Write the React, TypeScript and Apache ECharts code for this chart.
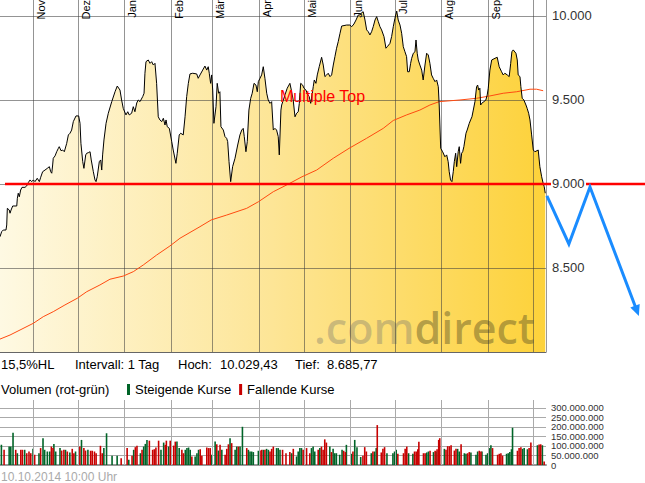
import React, { useEffect, useRef } from "react";
import * as echarts from "echarts";

const FONT = '"Liberation Sans", Arial, Helvetica, sans-serif';
const DAY = 86400000;
const START = Date.UTC(2013, 9, 10);
const END = Date.UTC(2014, 9, 10);

// DAX daily course (days after 10.10.2013, index points)
const priceDay = [
  0, 1.1, 2.2, 4.0, 4.5, 4.9, 6.2, 6.7, 7.4, 8.5, 11.2, 11.6, 12.2, 12.9, 13.8, 14.7, 16.7, 17.8, 18.9, 20.1,
  21.2, 22.3, 23.4, 24.9, 26.3, 27.2, 28.5, 30.1, 31.6, 33.0, 33.9, 34.6, 35.2, 35.6, 36.8, 37.9, 39.0, 39.6, 40.8, 41.9,
  43.0, 44.6, 45.7, 46.8, 47.9, 49.0, 50.8, 52.6, 53.5, 54.1, 55.3, 56.1, 57.3, 58.0, 59.0, 60.2, 61.0, 62.4, 63.5, 64.2,
  65.0, 66.4, 67.3, 68.0, 68.6, 69.5, 70.9, 72.4, 74.7, 76.9, 78.4, 80.2, 81.3, 82.4, 84.2, 85.4, 86.4, 88.0, 89.1, 90.2,
  91.4, 92.4, 93.6, 95.4, 96.3, 96.9, 97.6, 99.1, 100.3, 101.4, 102.5, 103.6, 104.7, 105.8, 106.9, 108.1, 109.2, 110.3, 111.0, 111.8,
  113.2, 114.8, 115.8, 117.6, 118.5, 119.8, 120.8, 122.5, 123.7, 124.8, 125.9, 127.0, 128.8, 131.5, 132.5, 133.7, 135.5, 137.0, 138.2, 139.2,
  139.9, 140.8, 141.5, 142.2, 143.0, 144.4, 145.2, 146.2, 147.0, 147.7, 149.3, 150.4, 151.5, 152.2, 153.1, 154.2, 155.5, 157.1, 158.9, 160.4,
  161.6, 162.6, 163.3, 164.4, 165.3, 166.4, 167.6, 168.6, 169.8, 171.1, 172.0, 172.7, 173.8, 174.9, 176.0, 177.1, 178.3, 179.3, 180.5, 181.6,
  182.7, 183.8, 184.9, 186.0, 186.7, 187.8, 188.3, 189.4, 190.5, 192.0, 193.8, 195.0, 196.0, 197.2, 198.3, 199.4, 200.1, 201.0, 202.3, 203.2,
  204.5, 205.4, 206.7, 207.7, 208.3, 209.4, 210.1, 211.2, 212.1, 213.4, 215.0, 216.1, 217.2, 218.4, 219.4, 220.6, 221.7, 222.8, 223.9, 225.0,
  226.1, 227.3, 228.4, 231.7, 233.9, 235.1, 236.6, 238.0, 239.5, 240.6, 241.8, 242.8, 244.0, 245.1, 246.2, 247.3, 248.4, 249.5, 250.7, 251.8,
  252.9, 254.0, 255.1, 256.7, 258.0, 258.9, 260.7, 261.8, 262.9, 264.0, 265.2, 266.2, 267.4, 268.5, 269.6, 270.7, 271.8, 272.5, 273.6, 274.5,
  275.2, 276.3, 277.4, 278.1, 278.9, 279.6, 280.7, 281.9, 282.9, 284.1, 285.2, 286.3, 287.4, 288.5, 289.6, 290.8, 291.9, 293.0, 293.6, 294.6,
  295.9, 297.4, 298.6, 299.6, 300.3, 301.2, 302.1, 303.0, 303.7, 304.6, 305.3, 306.3, 307.0, 307.9, 308.6, 309.3, 310.1, 311.5, 312.3, 313.7,
  314.6, 315.5, 316.4, 317.5, 318.6, 319.3, 320.0, 320.8, 321.3, 322.0, 323.5, 324.8, 325.7, 326.4, 327.5, 328.7, 330.9, 332.4, 333.7, 335.3,
  336.4, 337.5, 339.1, 340.4, 341.4, 342.2, 343.1, 344.9, 345.8, 346.4, 347.6, 348.2, 349.1, 350.2, 351.6, 352.4, 353.4, 354.3, 355.4, 356.5,
  357.6, 359.8, 360.9, 362.1, 363.1, 363.8, 364.5,
];
const priceClose = [
  8686, 8716, 8726, 8726, 8756, 8855, 8845, 8826, 8845, 8869, 8869, 8915, 8945, 8924, 8964, 8980, 8980, 8988, 9008, 9024,
  9014, 9024, 9014, 9034, 9014, 9040, 9073, 9083, 9093, 9103, 9073, 9064, 9113, 9153, 9167, 9192, 9212, 9222, 9198, 9202,
  9192, 9242, 9292, 9302, 9321, 9371, 9405, 9405, 9361, 9242, 9133, 9093, 9173, 9183, 9186, 9192, 9143, 9073, 9024, 9014,
  9043, 9133, 9143, 9083, 9173, 9262, 9361, 9421, 9490, 9549, 9583, 9559, 9500, 9450, 9411, 9430, 9411, 9421, 9460, 9430,
  9482, 9500, 9490, 9520, 9540, 9659, 9728, 9738, 9718, 9728, 9708, 9718, 9599, 9400, 9381, 9371, 9391, 9351, 9381, 9341,
  9331, 9252, 9202, 9123, 9183, 9292, 9302, 9292, 9400, 9520, 9599, 9655, 9659, 9655, 9629, 9649, 9678, 9702, 9678, 9698,
  9659, 9599, 9649, 9559, 9361, 9460, 9599, 9540, 9549, 9341, 9321, 9282, 9272, 9252, 9133, 9014, 9103, 9153, 9232, 9292,
  9321, 9331, 9282, 9192, 9252, 9440, 9510, 9540, 9599, 9589, 9549, 9609, 9629, 9649, 9698, 9629, 9540, 9500, 9480, 9490,
  9321, 9331, 9321, 9282, 9173, 9440, 9470, 9500, 9530, 9570, 9599, 9549, 9500, 9400, 9421, 9430, 9480, 9599, 9589, 9570,
  9559, 9540, 9520, 9480, 9510, 9579, 9619, 9599, 9649, 9698, 9754, 9708, 9639, 9649, 9659, 9639, 9649, 9708, 9758, 9808,
  9847, 9897, 9940, 9946, 9946, 9936, 9952, 9976, 10006, 10006, 10020, 10025, 9976, 9917, 9906, 9887, 9906, 9936, 9976, 9996,
  9966, 9936, 9917, 9877, 9808, 9817, 9837, 9877, 9936, 9986, 10029, 9976, 9946, 9897, 9817, 9787, 9758, 9668, 9668, 9718,
  9748, 9778, 9787, 9857, 9778, 9738, 9708, 9678, 9619, 9708, 9778, 9768, 9718, 9649, 9629, 9609, 9619, 9579, 9470, 9212,
  9192, 9162, 9173, 9133, 9073, 9024, 9014, 9073, 9133, 9183, 9103, 9192, 9222, 9123, 9183, 9192, 9222, 9302, 9321, 9361,
  9381, 9400, 9440, 9490, 9579, 9589, 9559, 9570, 9470, 9480, 9490, 9500, 9530, 9570, 9678, 9738, 9748, 9754, 9698, 9668,
  9649, 9659, 9649, 9639, 9718, 9787, 9798, 9778, 9738, 9649, 9639, 9579, 9510, 9500, 9470, 9450, 9421, 9381, 9292, 9202,
  9192, 9202, 9103, 9043, 9004, 8984, 8945,
];

// 200-day moving average
const maDay = [
  0, 6.7, 13.4, 22.3, 28.9, 35.6, 43.4, 51.7, 58.0, 66.8, 73.5, 82.4, 89.1, 95.8, 104.7, 113.6, 120.3, 133.7, 141.2, 151.5,
  164.9, 172.9, 182.7, 191.6, 201.9, 211.7, 222.8, 233.3, 245.1, 256.2, 262.9, 271.8, 280.7, 287.4, 293.6, 307.5, 318.6, 327.5,
  336.4, 345.4, 354.3, 358.7, 363.1,
];
const maValue = [
  8077, 8101, 8131, 8171, 8210, 8240, 8280, 8320, 8359, 8399, 8433, 8452, 8478, 8518, 8577, 8631, 8677, 8746, 8786, 8815,
  8855, 8895, 8954, 8994, 9043, 9083, 9153, 9212, 9272, 9331, 9378, 9411, 9440, 9470, 9490, 9500, 9510, 9524,
  9540, 9549, 9564, 9564, 9555,
];

// Volume (millions), 1 = steigende Kurse, 0 = fallende Kurse
const volDay = [
  0.4, 2.2, 5.6, 6.7, 8.2, 10.0, 11.1, 13.4, 14.5, 16.0, 17.4, 18.9, 20.1, 21.6, 22.7, 25.6, 26.7, 28.3, 29.4, 31.2,
  32.8, 33.9, 35.0, 35.6, 36.8, 39.7, 40.8, 42.3, 43.4, 44.6, 46.3, 47.9, 49.0, 50.1, 53.0, 54.1, 55.7, 56.8, 58.4, 60.2,
  61.3, 62.8, 63.9, 66.8, 68.0, 69.1, 70.9, 74.6, 78.0, 80.7, 84.7, 85.8, 88.0, 89.1, 90.2, 91.3, 93.6, 94.7, 95.8, 96.9,
  98.0, 99.6, 101.8, 102.9, 104.0, 105.8, 107.4, 109.2, 110.3, 111.0, 112.5, 113.6, 115.9, 117.0, 118.1, 119.6, 121.4, 122.5, 123.7, 124.8,
  125.9, 127.0, 128.1, 130.3, 131.5, 132.6, 133.7, 134.8, 138.1, 139.3, 140.4, 141.5, 143.7, 144.8, 145.9, 147.0, 148.2, 150.4, 151.5, 152.6,
  153.7, 154.8, 157.1, 158.2, 159.3, 160.4, 162.0, 164.9, 166.0, 167.1, 168.2, 169.3, 172.7, 173.8, 174.9, 176.0, 177.1, 178.2, 179.4, 180.5,
  181.6, 182.7, 184.9, 186.0, 187.2, 188.9, 191.2, 193.8, 195.0, 196.1, 198.3, 199.4, 200.5, 201.6, 202.7, 205.0, 207.2, 208.3, 209.4, 210.5,
  212.8, 213.9, 215.0, 216.1, 217.2, 218.3, 220.6, 221.7, 222.8, 223.9, 225.0, 227.2, 228.8, 229.9, 231.0, 231.7, 235.0, 236.1, 237.3, 238.8,
  241.3, 242.8, 244.0, 245.1, 248.4, 249.5, 250.6, 251.7, 252.4, 255.1, 256.2, 257.3, 258.9, 262.9, 264.0, 265.1, 266.2, 270.0, 271.1, 272.2,
  273.4, 276.3, 277.4, 278.5, 279.6, 280.3, 283.4, 284.5, 285.6, 286.7, 287.8, 290.1, 291.2, 291.8, 292.5, 293.6, 294.3, 297.4, 298.5, 299.6,
  300.8, 301.9, 304.1, 305.2, 306.3, 307.4, 308.6, 310.8, 311.9, 313.0, 314.1, 315.2, 318.6, 319.7, 320.8, 321.9, 322.6, 325.3, 326.4, 327.5,
  328.6, 329.7, 333.1, 334.2, 335.3, 336.4, 339.1, 340.2, 341.3, 342.4, 343.1, 346.4, 347.5, 348.7, 349.8, 350.9, 353.1, 354.2, 355.4, 359.8,
  360.9, 362.0, 363.1, 364.3,
];
const volMillion = [
  106, 80, 97, 97, 170, 80, 62, 80, 80, 80, 62, 71, 62, 85, 54, 62, 89, 141, 80, 71,
  71, 97, 89, 111, 71, 89, 76, 80, 80, 71, 66, 85, 62, 71, 97, 132, 89, 76, 80, 75,
  75, 71, 62, 101, 62, 89, 167, 49, 49, 36, 89, 28, 49, 80, 94, 101, 62, 80, 97, 111,
  132, 128, 80, 83, 92, 128, 80, 118, 106, 128, 97, 128, 102, 123, 123, 89, 80, 62, 80, 89,
  92, 80, 45, 45, 62, 80, 83, 49, 92, 89, 89, 54, 123, 109, 76, 106, 80, 54, 85, 109,
  141, 115, 80, 97, 97, 97, 201, 89, 80, 71, 71, 68, 75, 76, 80, 80, 80, 85, 80, 71,
  85, 97, 89, 89, 80, 80, 62, 68, 62, 85, 45, 71, 89, 89, 80, 89, 62, 89, 97, 71,
  80, 89, 97, 80, 135, 118, 97, 68, 85, 62, 62, 54, 80, 75, 68, 106, 59, 71, 132, 94,
  42, 49, 94, 71, 62, 71, 71, 89, 210, 66, 85, 94, 62, 62, 71, 80, 59, 62, 85, 97,
  62, 59, 71, 71, 83, 122, 62, 62, 66, 71, 75, 68, 75, 71, 83, 132, 141, 85, 80, 99,
  99, 104, 76, 85, 85, 71, 109, 62, 59, 62, 68, 66, 54, 71, 75, 71, 71, 54, 62, 89,
  104, 89, 54, 59, 62, 49, 59, 62, 68, 83, 196, 75, 89, 94, 85, 89, 83, 89, 118, 104,
  108, 109, 104, 19,
];
const volRising = [
  1, 0, 1, 1, 1, 0, 1, 0, 0, 1, 0, 0, 0, 1, 0, 1, 0, 1, 1, 1,
  1, 0, 0, 1, 1, 1, 0, 0, 1, 0, 1, 0, 0, 1, 0, 1, 0, 0, 1, 0,
  0, 0, 0, 0, 0, 1, 1, 1, 1, 0, 0, 1, 0, 1, 0, 0, 1, 0, 1, 1,
  1, 0, 0, 0, 0, 0, 1, 1, 0, 0, 1, 0, 0, 0, 1, 1, 0, 0, 1, 1,
  1, 1, 0, 1, 1, 1, 0, 0, 0, 0, 0, 1, 1, 0, 1, 0, 1, 0, 0, 0,
  1, 0, 1, 1, 0, 1, 1, 0, 1, 1, 1, 1, 1, 0, 0, 1, 0, 1, 1, 0,
  0, 0, 1, 1, 1, 0, 0, 0, 1, 0, 1, 1, 1, 1, 0, 0, 0, 1, 1, 1,
  0, 1, 0, 0, 0, 0, 1, 0, 1, 1, 1, 1, 1, 0, 0, 1, 1, 0, 1, 1,
  1, 0, 0, 0, 1, 0, 1, 1, 0, 0, 0, 0, 1, 1, 1, 1, 0, 0, 0, 0,
  1, 1, 0, 0, 0, 0, 0, 0, 1, 1, 0, 1, 0, 1, 0, 0, 0, 1, 0, 0,
  0, 0, 0, 0, 1, 1, 0, 1, 1, 0, 0, 1, 1, 1, 0, 0, 1, 1, 1, 1,
  1, 0, 0, 0, 0, 0, 1, 1, 1, 1, 1, 0, 0, 0, 1, 1, 1, 0, 0, 1,
  0, 0, 1, 0,
];

const monthStart = [
  "2013-11-01", "2013-12-01", "2014-01-01", "2014-02-01", "2014-03-01", "2014-04-01",
  "2014-05-01", "2014-06-01", "2014-07-01", "2014-08-01", "2014-09-01", "2014-10-01",
];
const monthLabel = ["Nov", "Dez", "Jan", "Feb", "Mär", "Apr", "Mai", "Jun", "Jul", "Aug", "Sep", ""];

const priceMin = 8000;
const priceMax = 10095;
const priceStep = 500;
const supportLevel = 9000;
const volMax = 342;
const volStep = 50;
const volTicks = [0, 50, 100, 150, 200, 250, 300];

// drawn forecast arrow (days after start, index points)
const arrowDay = [365.6, 380.3, 394.4, 427.1];
const arrowValue = [8929, 8643, 8982, 8214];
const patternLabel = { text: "Multiple Top", day: 187.2, value: 9518 };

const infoTexts = ["15,5%HL", "Intervall: 1 Tag", "Hoch:", "10.029,43", "Tief:", "8.685,77"];

const deNum = (n: number) => String(Math.round(n)).replace(/\B(?=(\d{3})+(?!\d))/g, ".");
const ts = (d: number) => START + d * DAY;

export default function App() {
  const ref = useRef<HTMLDivElement>(null);
  useEffect(() => {
    if (!ref.current) return;
    const chart = echarts.init(ref.current, undefined, { renderer: "svg" });
    const price = priceDay.map((d, i) => [ts(d), priceClose[i]]);
    const ma = maDay.map((d, i) => [ts(d), maValue[i]]);
    const volUp: any[] = [];
    const volDown: any[] = [];
    volDay.forEach((d, i) => {
      (volRising[i] ? volUp : volDown).push([ts(d), volMillion[i]]);
    });
    const gridLine = "rgba(60,60,60,0.55)";
    chart.setOption({
      animation: false,
      textStyle: { fontFamily: FONT },
      grid: [
        { left: 0, top: 0, width: 546, height: 352 },
        { left: 0, top: 400, width: 546, height: 65 },
      ],
      legend: {
        left: 122,
        top: 378,
        itemWidth: 3,
        itemHeight: 11,
        itemGap: 8,
        icon: "rect",
        selectedMode: false,
        textStyle: { fontSize: 13, color: "#000", fontFamily: FONT },
        data: ["Steigende Kurse", "Fallende Kurse"],
      },
      xAxis: [
        {
          type: "time", gridIndex: 0, min: START, max: END,
          axisLine: { show: true, lineStyle: { color: "#999" } },
          axisTick: { show: false }, axisLabel: { show: false }, splitLine: { show: false },
        },
        {
          type: "time", gridIndex: 1, min: START, max: END,
          axisLine: { show: true, lineStyle: { color: "#999", width: 2 } },
          axisTick: { show: false }, axisLabel: { show: false }, splitLine: { show: false },
        },
      ],
      yAxis: [
        {
          type: "value", gridIndex: 0, position: "right", min: priceMin, max: priceMax, interval: priceStep, z: 3,
          axisLine: { show: true, lineStyle: { color: "#999" } },
          axisTick: { show: false },
          axisLabel: {
            margin: 6, color: "#333", fontSize: 13, showMaxLabel: false,
            formatter: (v: number) => (v === priceMin ? "" : deNum(v)),
          },
          splitLine: { show: true, showMaxLine: false, lineStyle: { color: gridLine } },
        },
        {
          type: "value", gridIndex: 1, position: "right", min: 0, max: volMax, interval: volStep,
          axisLine: { show: false }, axisTick: { show: false },
          axisLabel: { show: false },
          splitLine: { show: true, showMaxLine: false, lineStyle: { color: "#aaa" } },
        },
      ],
      series: [
        {
          type: "line", name: "fill", xAxisIndex: 0, yAxisIndex: 0, data: price, symbol: "none", silent: true, z: 1,
          lineStyle: { width: 0, opacity: 0 },
          areaStyle: {
            origin: "start", opacity: 1,
            color: new echarts.graphic.LinearGradient(0, 0, 1, 0, [
              { offset: 0, color: "#fef9e3" },
              { offset: 0.5, color: "#fde596" },
              { offset: 1, color: "#fdd23a" },
            ]),
          },
        },
        {
          type: "line", name: "MA200", xAxisIndex: 0, yAxisIndex: 0, data: ma, symbol: "none", silent: true, z: 4,
          lineStyle: { color: "#ff4a10", width: 1 },
        },
        {
          type: "line", name: "DAX", xAxisIndex: 0, yAxisIndex: 0, data: price, symbol: "none", silent: true, z: 5,
          lineStyle: { color: "#000", width: 1 },
        },
        {
          type: "bar", name: "Steigende Kurse", xAxisIndex: 1, yAxisIndex: 1, data: volUp,
          barWidth: 1.6, barGap: "-100%", silent: true, itemStyle: { color: "#006428" },
        },
        {
          type: "bar", name: "Fallende Kurse", xAxisIndex: 1, yAxisIndex: 1, data: volDown,
          barWidth: 1.6, barGap: "-100%", silent: true, itemStyle: { color: "#c80000" },
        },
      ],
    });

    const xPx = (t: number) => chart.convertToPixel({ xAxisIndex: 0 }, t) as number;
    const gLeft = xPx(START);
    const gRight = xPx(END);
    const gTop = chart.convertToPixel({ yAxisIndex: 0 }, priceMax) as number;
    const gBottom = chart.convertToPixel({ yAxisIndex: 0 }, priceMin) as number;
    const vTop = chart.convertToPixel({ yAxisIndex: 1 }, volMax) as number;
    const vBottom = chart.convertToPixel({ yAxisIndex: 1 }, 0) as number;
    const ySupport = Math.round(chart.convertToPixel({ yAxisIndex: 0 }, supportLevel) as number);

    const els: any[] = [];
    monthStart.forEach((m, i) => {
      const x = Math.round(xPx(Date.parse(m))) + 0.5;
      els.push({ type: "line", silent: true, z: 3, shape: { x1: x, y1: gTop, x2: x, y2: gBottom }, style: { stroke: gridLine, lineWidth: 1 } });
      els.push({ type: "line", silent: true, z: 3, shape: { x1: x, y1: vTop, x2: x, y2: vBottom }, style: { stroke: "#aaa", lineWidth: 1 } });
      if (monthLabel[i]) {
        els.push({
          type: "text", silent: true, z: 6, x: x + 2, y: 0, rotation: Math.PI / 2,
          style: { text: monthLabel[i], fill: "#000", fontSize: 11, fontFamily: FONT, align: "right", verticalAlign: "top" },
        });
      }
    });
    // volume axis labels
    volTicks.forEach((v) => {
      const y = chart.convertToPixel({ yAxisIndex: 1 }, v) as number;
      els.push({
        type: "text", silent: true, x: gRight + 5, y,
        style: { text: v === 0 ? "0" : deNum(v * 1e6), fill: "#333", fontSize: 9.5, fontFamily: FONT, verticalAlign: "middle" },
      });
    });
    // support line 9.000
    els.push({ type: "line", silent: true, z: 6, shape: { x1: gLeft + 5, y1: ySupport, x2: gRight + 5, y2: ySupport }, style: { stroke: "#ff0000", lineWidth: 2.5 } });
    els.push({ type: "line", silent: true, z: 6, shape: { x1: gRight + 40, y1: ySupport, x2: 645, y2: ySupport }, style: { stroke: "#ff0000", lineWidth: 2.5 } });

    // forecast arrow
    const pts = arrowDay.map((d, i) => chart.convertToPixel({ gridIndex: 0 }, [ts(d), arrowValue[i]]) as number[]);
    const tip = pts[pts.length - 1];
    const prev = pts[pts.length - 2];
    const dx = tip[0] - prev[0], dy = tip[1] - prev[1];
    const len = Math.hypot(dx, dy);
    const ux = dx / len, uy = dy / len;
    const bx = tip[0] - ux * 11, by = tip[1] - uy * 11;
    const lineEnd = [tip[0] - ux * 8, tip[1] - uy * 8];
    els.push({
      type: "polyline", silent: true, z: 6,
      shape: { points: [...pts.slice(0, -1), lineEnd] },
      style: { stroke: "#1a8cff", lineWidth: 3, fill: null, lineJoin: "miter" },
    });
    els.push({
      type: "polygon", silent: true, z: 6,
      shape: { points: [tip, [bx - uy * 5, by + ux * 5], [bx + uy * 5, by - ux * 5]] },
      style: { fill: "#1a8cff" },
    });

    const lp = chart.convertToPixel({ gridIndex: 0 }, [ts(patternLabel.day), patternLabel.value]) as number[];
    els.push({
      type: "text", silent: true, z: 6, x: lp[0], y: lp[1],
      style: { text: patternLabel.text, fill: "#ff0000", fontSize: 16, fontFamily: FONT, align: "left", verticalAlign: "middle" },
    });

    // watermark
    els.push({
      type: "text", silent: true, z: 2, x: gLeft + 314, y: gBottom - 25,
      style: {
        text: "{a|.com}{b|direct}", align: "left", verticalAlign: "middle",
        rich: {
          a: { fill: "rgba(120,120,110,0.38)", fontSize: 43, fontFamily: '"Open Sans", "Noto Sans", sans-serif', fontWeight: 600 },
          b: { fill: "rgba(100,90,40,0.48)", fontSize: 43, fontFamily: '"Open Sans", "Noto Sans", sans-serif', fontWeight: 600 },
        },
      },
    });

    const infoX = [1, 75, 178, 220, 295, 327];
    infoTexts.forEach((t, i) => {
      els.push({ type: "text", silent: true, x: infoX[i], y: 364, style: { text: t, fill: "#000", fontSize: 13, fontFamily: FONT, verticalAlign: "middle" } });
    });
    els.push({ type: "text", silent: true, x: 1, y: 389, style: { text: "Volumen (rot-grün)", fill: "#000", fontSize: 13, fontFamily: FONT, verticalAlign: "middle" } });
    els.push({ type: "text", silent: true, x: 1, y: 477, style: { text: "10.10.2014 10:00 Uhr", fill: "#aaa", fontSize: 12, fontFamily: FONT, verticalAlign: "middle" } });

    chart.setOption({ graphic: { elements: els } });
    return () => chart.dispose();
  }, []);
  return <div ref={ref} style={{ position: "fixed", left: 0, top: 0, width: 645, height: 483, background: "#fff" }} />;
}
